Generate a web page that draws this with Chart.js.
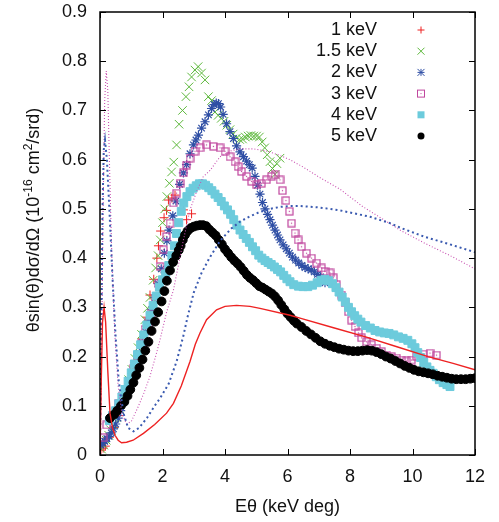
<!DOCTYPE html>
<html>
<head>
<meta charset="utf-8">
<script src="https://cdn.jsdelivr.net/npm/chart.js@4/dist/chart.umd.min.js"></script>
<style>
  html, body { margin: 0; padding: 0; background: #fff; }
  #wrap { width: 499px; height: 522px; position: relative; }
</style>
</head>
<body>
<div id="wrap"><canvas id="myChart"></canvas></div>
<script>
// axis ticks
const xTicks = [0, 2, 4, 6, 8, 10, 12];
const yTicks = [0, 0.1, 0.2, 0.3, 0.4, 0.5, 0.6, 0.7, 0.8, 0.9];

const keV1 = [[0.03,0.01],[0.1,0.014],[0.17,0.018],[0.3,0.036],[0.45,0.056],[0.6,0.08],[0.75,0.105],[0.9,0.13],[1.05,0.162],[1.2,0.196],[1.35,0.236],[1.5,0.28],[1.6,0.325],[1.72,0.357],[1.82,0.4],[1.87,0.425],[1.94,0.455],[2.05,0.482],[2.13,0.497],[2.19,0.518],[2.3,0.522],[2.4,0.528],[2.67,0.498],[2.77,0.478],[2.93,0.49]];

const keV15 = [[0.05,0.012],[0.12,0.02],[0.2,0.03],[0.28,0.04],[0.36,0.05],[0.44,0.062],[0.52,0.076],[0.62,0.094],[0.72,0.113],[0.82,0.133],[0.92,0.153],[1.02,0.174],[1.12,0.196],[1.22,0.218],[1.33,0.245],[1.44,0.275],[1.52,0.298],[1.6,0.32],[1.7,0.355],[1.78,0.38],[1.86,0.405],[1.93,0.437],[2.0,0.472],[2.07,0.5],[2.14,0.525],[2.22,0.552],[2.29,0.575],[2.36,0.595],[2.45,0.63],[2.53,0.672],[2.64,0.7],[2.75,0.728],[2.85,0.748],[2.93,0.768],[3.04,0.782],[3.14,0.789],[3.25,0.776],[3.36,0.762],[3.47,0.728],[3.57,0.72],[3.68,0.697],[3.78,0.69],[3.88,0.684],[3.97,0.678],[4.06,0.67],[4.16,0.661],[4.26,0.652],[4.37,0.644],[4.47,0.641],[4.56,0.642],[4.65,0.646],[4.74,0.648],[4.83,0.649],[4.92,0.648],[5.01,0.648],[5.1,0.646],[5.19,0.636],[5.27,0.624],[5.35,0.61],[5.44,0.596],[5.52,0.582],[5.6,0.57],[5.66,0.592],[5.76,0.603]];

const keV2 = [[0.03,0.02],[0.09,0.024],[0.15,0.028],[0.22,0.033],[0.29,0.038],[0.36,0.045],[0.43,0.053],[0.5,0.063],[0.58,0.075],[0.66,0.09],[0.76,0.108],[0.86,0.126],[0.96,0.145],[1.06,0.165],[1.16,0.186],[1.26,0.207],[1.36,0.228],[1.46,0.25],[1.56,0.272],[1.66,0.296],[1.76,0.32],[1.86,0.348],[1.96,0.378],[2.06,0.41],[2.14,0.435],[2.21,0.457],[2.33,0.486],[2.43,0.516],[2.55,0.55],[2.67,0.573],[2.77,0.59],[2.88,0.612],[2.99,0.63],[3.07,0.64],[3.15,0.65],[3.25,0.664],[3.36,0.677],[3.47,0.691],[3.57,0.704],[3.65,0.712],[3.72,0.715],[3.79,0.714],[3.86,0.707],[3.94,0.692],[4.05,0.673],[4.16,0.657],[4.27,0.643],[4.37,0.628],[4.48,0.616],[4.59,0.606],[4.69,0.597],[4.78,0.59],[4.87,0.583],[4.96,0.566],[5.04,0.548],[5.12,0.53],[5.2,0.513],[5.28,0.5],[5.36,0.489],[5.44,0.478],[5.52,0.467],[5.6,0.457],[5.68,0.447],[5.76,0.437],[5.86,0.427],[5.96,0.419],[6.06,0.41],[6.16,0.402],[6.26,0.396],[6.36,0.39],[6.46,0.385],[6.56,0.381],[6.66,0.378],[6.76,0.376],[6.86,0.372],[6.96,0.367],[7.06,0.362],[7.14,0.356],[7.2,0.35]];

const keV3 = [[0.1,0.035],[0.21,0.061],[0.4,0.08],[0.6,0.105],[0.8,0.126],[0.95,0.15],[1.07,0.176],[1.2,0.2],[1.33,0.227],[1.44,0.255],[1.54,0.27],[1.65,0.288],[1.76,0.315],[1.86,0.349],[1.92,0.383],[2.03,0.417],[2.13,0.444],[2.24,0.471],[2.35,0.512],[2.45,0.532],[2.56,0.552],[2.67,0.573],[2.77,0.589],[2.88,0.603],[3.04,0.617],[3.2,0.624],[3.41,0.63],[3.63,0.627],[3.84,0.624],[4.0,0.617],[4.16,0.606],[4.32,0.596],[4.42,0.586],[4.53,0.576],[4.69,0.566],[4.85,0.556],[5.01,0.549],[5.17,0.552],[5.33,0.559],[5.49,0.566],[5.6,0.569],[5.76,0.559],[5.84,0.537],[5.95,0.517],[6.06,0.495],[6.13,0.471],[6.24,0.451],[6.34,0.437],[6.45,0.423],[6.61,0.41],[6.77,0.4],[6.93,0.39],[7.09,0.38],[7.2,0.373],[7.36,0.37],[7.47,0.36],[7.57,0.346],[7.73,0.325],[7.84,0.309],[7.95,0.291],[8.05,0.274],[8.16,0.261],[8.27,0.248],[8.37,0.238],[8.53,0.23],[8.69,0.224],[8.85,0.217],[9.01,0.21],[9.17,0.203],[9.33,0.2],[9.49,0.197],[9.65,0.193],[9.81,0.191],[9.97,0.193],[10.13,0.2],[10.34,0.205],[10.56,0.207],[10.77,0.203]];

const keV4 = [[0.3,0.07],[0.4,0.08],[0.5,0.09],[0.6,0.104],[0.7,0.118],[0.8,0.133],[0.9,0.15],[1.0,0.167],[1.1,0.185],[1.2,0.204],[1.3,0.224],[1.4,0.244],[1.5,0.264],[1.6,0.284],[1.7,0.304],[1.8,0.323],[1.9,0.341],[2.0,0.356],[2.1,0.368],[2.2,0.385],[2.3,0.405],[2.38,0.425],[2.45,0.45],[2.52,0.472],[2.6,0.495],[2.68,0.512],[2.78,0.525],[2.88,0.535],[2.98,0.542],[3.08,0.547],[3.18,0.551],[3.28,0.551],[3.38,0.548],[3.48,0.543],[3.58,0.537],[3.68,0.53],[3.78,0.523],[3.88,0.515],[3.98,0.506],[4.08,0.498],[4.18,0.489],[4.28,0.478],[4.38,0.467],[4.48,0.457],[4.58,0.448],[4.68,0.44],[4.78,0.432],[4.88,0.423],[4.98,0.415],[5.08,0.406],[5.18,0.4],[5.28,0.395],[5.38,0.391],[5.48,0.387],[5.58,0.382],[5.68,0.377],[5.78,0.372],[5.88,0.365],[5.98,0.358],[6.08,0.352],[6.2,0.346],[6.35,0.343],[6.5,0.342],[6.65,0.342],[6.8,0.345],[6.95,0.35],[7.08,0.355],[7.2,0.357],[7.32,0.354],[7.44,0.348],[7.55,0.34],[7.65,0.331],[7.75,0.321],[7.85,0.311],[7.95,0.3],[8.05,0.291],[8.15,0.283],[8.25,0.276],[8.35,0.27],[8.5,0.263],[8.65,0.258],[8.8,0.253],[8.95,0.25],[9.1,0.248],[9.25,0.247],[9.4,0.244],[9.55,0.24],[9.7,0.237],[9.85,0.233],[9.98,0.226],[10.08,0.218],[10.17,0.208],[10.26,0.198],[10.36,0.188],[10.46,0.179],[10.56,0.172],[10.66,0.166],[10.76,0.159],[10.86,0.153],[10.98,0.147],[11.1,0.143],[11.2,0.139]];

const keV5 = [[0.32,0.075],[0.45,0.082],[0.55,0.09],[0.67,0.1],[0.78,0.108],[0.88,0.12],[0.97,0.133],[1.07,0.147],[1.16,0.162],[1.26,0.177],[1.36,0.194],[1.45,0.212],[1.55,0.23],[1.65,0.252],[1.76,0.271],[1.86,0.29],[1.97,0.312],[2.06,0.333],[2.14,0.354],[2.24,0.375],[2.34,0.392],[2.44,0.405],[2.52,0.416],[2.58,0.425],[2.65,0.437],[2.72,0.447],[2.8,0.455],[2.9,0.461],[3.0,0.464],[3.1,0.466],[3.2,0.467],[3.3,0.467],[3.4,0.465],[3.5,0.458],[3.6,0.452],[3.7,0.446],[3.8,0.437],[3.9,0.428],[4.0,0.418],[4.1,0.41],[4.2,0.402],[4.3,0.395],[4.4,0.389],[4.5,0.382],[4.6,0.374],[4.7,0.366],[4.8,0.36],[4.9,0.355],[5.0,0.349],[5.1,0.343],[5.2,0.34],[5.3,0.336],[5.4,0.332],[5.5,0.328],[5.6,0.322],[5.7,0.314],[5.8,0.305],[5.9,0.296],[6.0,0.287],[6.1,0.28],[6.2,0.273],[6.3,0.267],[6.45,0.26],[6.6,0.252],[6.75,0.245],[6.9,0.238],[7.05,0.231],[7.2,0.226],[7.35,0.222],[7.5,0.219],[7.65,0.216],[7.8,0.214],[7.95,0.212],[8.1,0.211],[8.25,0.211],[8.4,0.212],[8.55,0.213],[8.7,0.212],[8.85,0.209],[9.0,0.205],[9.15,0.2],[9.3,0.196],[9.45,0.191],[9.6,0.186],[9.75,0.181],[9.9,0.177],[10.05,0.173],[10.2,0.17],[10.35,0.168],[10.5,0.166],[10.65,0.164],[10.8,0.161],[10.95,0.159],[11.1,0.157],[11.25,0.155],[11.4,0.154],[11.55,0.154],[11.7,0.154],[11.85,0.155],[12.0,0.156]];

// theory curves
const theoryRed = [[0,0],[0.04,0.15],[0.08,0.27],[0.13,0.3],[0.18,0.27],[0.25,0.17],[0.32,0.085],[0.4,0.055],[0.48,0.04],[0.58,0.03],[0.69,0.025],[0.85,0.026],[1.06,0.03],[1.39,0.044],[1.75,0.062],[2.13,0.085],[2.35,0.105],[2.6,0.14],[2.88,0.19],[3.05,0.225],[3.2,0.248],[3.41,0.275],[3.73,0.295],[4.0,0.302],[4.37,0.304],[4.8,0.302],[5.12,0.298],[6.08,0.284],[6.4,0.278],[7.5,0.258],[8.5,0.24],[9.5,0.22],[10.5,0.2],[11.3,0.186],[12,0.173]];

const theoryBlue = [[0,0],[0.04,0.25],[0.08,0.5],[0.12,0.62],[0.16,0.64],[0.22,0.6],[0.3,0.5],[0.4,0.36],[0.5,0.24],[0.6,0.15],[0.75,0.085],[0.9,0.055],[1.07,0.048],[1.25,0.055],[1.5,0.075],[1.75,0.1],[1.92,0.115],[2.2,0.145],[2.45,0.19],[2.66,0.24],[2.8,0.28],[3.0,0.33],[3.25,0.37],[3.5,0.4],[3.84,0.435],[4.2,0.46],[4.48,0.474],[4.8,0.485],[5.12,0.494],[5.44,0.5],[5.76,0.504],[6.1,0.506],[6.4,0.506],[7.0,0.503],[7.68,0.497],[8.64,0.484],[9.28,0.471],[9.6,0.462],[10.4,0.443],[11.2,0.428],[12,0.412]];

const theoryMagenta = [[0,0],[0.05,0.2],[0.1,0.5],[0.15,0.72],[0.2,0.78],[0.25,0.74],[0.3,0.6],[0.38,0.4],[0.47,0.25],[0.58,0.14],[0.7,0.085],[0.85,0.063],[1.0,0.068],[1.2,0.095],[1.4,0.125],[1.6,0.16],[1.8,0.205],[1.92,0.234],[2.13,0.29],[2.35,0.335],[2.67,0.437],[2.88,0.498],[3.09,0.535],[3.3,0.565],[3.52,0.578],[3.84,0.606],[4.2,0.618],[4.5,0.622],[4.9,0.622],[5.3,0.618],[5.7,0.61],[6.08,0.6],[6.5,0.585],[7.0,0.565],[7.68,0.54],[8.4,0.505],[9.28,0.47],[9.6,0.457],[10.4,0.43],[11.3,0.402],[12,0.378]];

const labels = ['1 keV', '1.5 keV', '2 keV', '3 keV', '4 keV', '5 keV'];
const colors = ['#ee2222', '#5db83c', '#2f4fa5', '#c0479e', '#6ccbdc', '#000000'];

const toXY = arr => arr.map(p => ({ x: p[0], y: p[1] }));

// open square with a centre dot (gnuplot style)
function boxPoint(size, color) {
  const c = document.createElement('canvas');
  c.width = size; c.height = size;
  const g = c.getContext('2d');
  g.strokeStyle = color; g.lineWidth = 1.2;
  g.strokeRect(1, 1, size - 2, size - 2);
  g.fillStyle = color;
  g.fillRect(size / 2 - 0.6, size / 2 - 0.6, 1.2, 1.2);
  return c;
}

const font = "'Liberation Sans', Arial, sans-serif";

const frame = {
  id: 'frame',
  afterDatasetsDraw(chart) {
    const { ctx, chartArea: a, scales: { x, y } } = chart;
    ctx.save();
    ctx.strokeStyle = '#000';
    ctx.lineWidth = 1;
    ctx.beginPath();
    xTicks.forEach(v => {
      const px = Math.round(x.getPixelForValue(v)) + 0.5;
      ctx.moveTo(px, a.bottom); ctx.lineTo(px, a.bottom - 6);
      ctx.moveTo(px, a.top); ctx.lineTo(px, a.top + 6);
    });
    yTicks.forEach(v => {
      const py = Math.round(y.getPixelForValue(v)) + 0.5;
      ctx.moveTo(a.left, py); ctx.lineTo(a.left + 6, py);
      ctx.moveTo(a.right, py); ctx.lineTo(a.right - 6, py);
    });
    ctx.stroke();
    ctx.lineWidth = 1.5;
    ctx.strokeRect(a.left, a.top, a.right - a.left, a.bottom - a.top);
    ctx.restore();
  },
  afterDraw(chart) {
    const { ctx, chartArea: a } = chart;
    ctx.save();
    ctx.fillStyle = '#111';

    // x title
    ctx.font = '18px ' + font;
    ctx.textAlign = 'center';
    ctx.textBaseline = 'alphabetic';
    ctx.fillText('Eθ (keV deg)', (a.left + a.right) / 2, 512);

    // y title with superscripts
    const parts = [
      ['θsin(θ)dσ/dΩ (10', false], ['-16', true], [' cm', false], ['2', true], ['/srd)', false]
    ];
    const fnt = s => (s ? '12px ' : '18px ') + font;
    let w = 0;
    parts.forEach(p => { ctx.font = fnt(p[1]); w += ctx.measureText(p[0]).width; });
    ctx.translate(39, 220);
    ctx.rotate(-Math.PI / 2);
    ctx.textAlign = 'left';
    let cx = -w / 2;
    parts.forEach(p => {
      ctx.font = fnt(p[1]);
      ctx.fillText(p[0], cx, p[1] ? -7 : 0);
      cx += ctx.measureText(p[0]).width;
    });
    ctx.setTransform(1, 0, 0, 1, 0, 0);

    // legend: text right aligned, marker on the right
    ctx.font = '18px ' + font;
    ctx.textAlign = 'right';
    ctx.textBaseline = 'middle';
    labels.forEach((lab, i) => {
      const ty = 30 + i * 21.2;
      ctx.fillStyle = '#111';
      ctx.fillText(lab, 377, ty);
      const mx = 421, r = 3.5, col = colors[i];
      ctx.strokeStyle = col; ctx.fillStyle = col; ctx.lineWidth = 1;
      ctx.beginPath();
      if (i === 0) {
        ctx.moveTo(mx - r, ty); ctx.lineTo(mx + r, ty);
        ctx.moveTo(mx, ty - r); ctx.lineTo(mx, ty + r); ctx.stroke();
      } else if (i === 1) {
        ctx.moveTo(mx - r, ty - r); ctx.lineTo(mx + r, ty + r);
        ctx.moveTo(mx - r, ty + r); ctx.lineTo(mx + r, ty - r); ctx.stroke();
      } else if (i === 2) {
        ctx.moveTo(mx - r, ty); ctx.lineTo(mx + r, ty);
        ctx.moveTo(mx, ty - r); ctx.lineTo(mx, ty + r);
        ctx.moveTo(mx - r, ty - r); ctx.lineTo(mx + r, ty + r);
        ctx.moveTo(mx - r, ty + r); ctx.lineTo(mx + r, ty - r); ctx.stroke();
      } else if (i === 3) {
        ctx.strokeRect(mx - r, ty - r, 2 * r, 2 * r);
        ctx.fillRect(mx - 0.5, ty - 0.5, 1, 1);
      } else if (i === 4) {
        ctx.fillRect(mx - r, ty - r, 2 * r, 2 * r);
      } else {
        ctx.arc(mx, ty, r, 0, Math.PI * 2); ctx.fill();
      }
    });
    ctx.restore();
  }
};

function points(data, i, style, radius, order, extra) {
  return Object.assign({
    label: labels[i],
    data: toXY(data),
    showLine: false,
    pointStyle: style,
    pointRadius: radius,
    borderColor: colors[i],
    backgroundColor: colors[i],
    pointBorderWidth: 1,
    order: order
  }, extra || {});
}

function curve(data, color, width, dash) {
  return {
    data: toXY(data),
    showLine: true,
    pointRadius: 0,
    borderColor: color,
    borderWidth: width,
    borderDash: dash,
    fill: false,
    order: 0
  };
}

new Chart(document.getElementById('myChart').getContext('2d'), {
  type: 'scatter',
  data: {
    datasets: [
      curve(theoryRed, '#ee2222', 1.4, []),
      curve(theoryBlue, '#3a5ab0', 2, [2, 3]),
      curve(theoryMagenta, '#c84fb0', 1.1, [1, 2]),
      points(keV5, 5, 'circle', 4.4, 1),
      points(keV4, 4, 'rect', 5.6, 2),
      points(keV3, 3, boxPoint(9, colors[3]), 5, 3),
      points(keV2, 2, 'star', 4.6, 4, { pointBorderWidth: 1.2 }),
      points(keV15, 1, 'crossRot', 6, 5),
      points(keV1, 0, 'cross', 4.5, 6)
    ]
  },
  options: {
    responsive: true,
    maintainAspectRatio: false,
    animation: false,
    events: [],
    layout: { padding: { top: 12, right: 24, left: 0, bottom: 0 } },
    plugins: { legend: { display: false }, tooltip: { enabled: false } },
    scales: {
      x: {
        type: 'linear', min: 0, max: 12,
        grid: { display: false, drawTicks: false },
        border: { display: false },
        afterBuildTicks: s => { s.ticks = xTicks.map(v => ({ value: v })); },
        // fixed axis size, no extra label overhang padding
        afterFit: s => { s.height = 67; s.paddingLeft = 0; s.paddingRight = 0; },
        ticks: { padding: 11, color: '#111', font: { family: font, size: 18 }, maxRotation: 0,
                 callback: v => String(v) }
      },
      y: {
        type: 'linear', min: 0, max: 0.9,
        grid: { display: false, drawTicks: false },
        border: { display: false },
        afterBuildTicks: s => { s.ticks = yTicks.map(v => ({ value: v })); },
        afterFit: s => { s.width = 100; s.paddingTop = 0; s.paddingBottom = 0; },
        ticks: { padding: 13, color: '#111', font: { family: font, size: 18 },
                 callback: v => (v === 0 ? '0' : v.toFixed(1)) }
      }
    }
  },
  plugins: [frame]
});
</script>
</body>
</html>
